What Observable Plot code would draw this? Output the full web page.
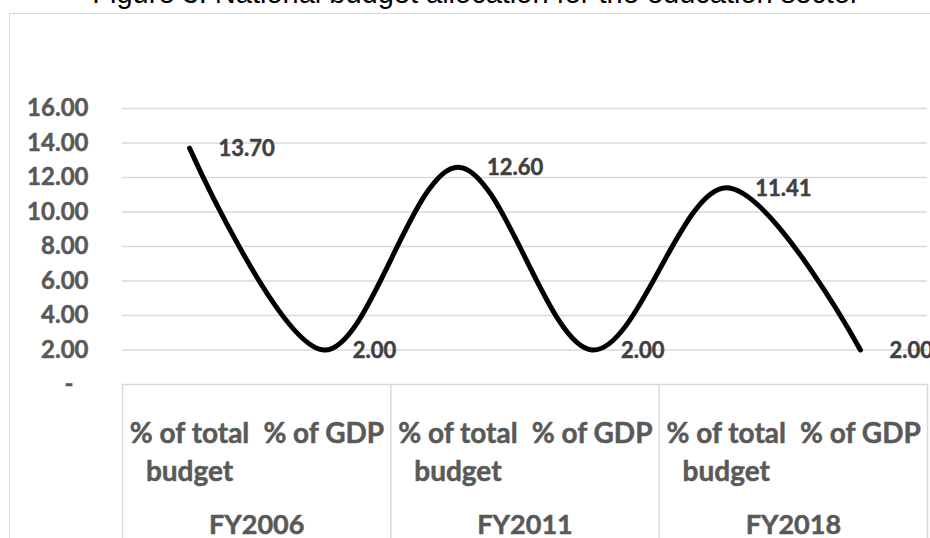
<!DOCTYPE html>
<html>
<head>
<meta charset="utf-8">
<script src="https://cdn.jsdelivr.net/npm/d3@7"></script>
<script src="https://cdn.jsdelivr.net/npm/@observablehq/plot@0.6"></script>
<style>
  html, body { margin: 0; padding: 0; background: #fff; overflow: hidden; }
  #wrap { position: relative; width: 930px; height: 538px; overflow: hidden; }
  #title {
    position: absolute; left: 0; width: 952px; top: -21px; line-height: 29px;
    text-align: center; white-space: nowrap;
    font-family: "Liberation Sans", Arial, sans-serif; font-size: 29px; color: #000;
  }
  #frame {
    position: absolute; left: 9px; top: 13px; width: 960px; height: 600px;
    border: 1.5px solid #d9d9d9; box-sizing: border-box;
  }
  #chart { position: absolute; left: 0; top: 0; }
</style>
</head>
<body>
<div id="wrap">
  <div id="title">Figure 3: National budget allocation for the education sector</div>
  <div id="frame"></div>
  <div id="chart"></div>
</div>
<script>
// Fiscal years (outer category level) and measures (inner level)
const years = ["FY2006", "FY2011", "FY2018"];
const measures = ["% of total budget", "% of GDP"];
// Education allocation, in order: FY2006 budget, FY2006 GDP, FY2011 ..., FY2018 ...
const values = [13.70, 2.00, 12.60, 2.00, 11.41, 2.00];
// Value axis ticks
const yTicks = [0, 2, 4, 6, 8, 10, 12, 14, 16];

const rows = values.map((v, i) => ({
  i,
  year: years[Math.floor(i / measures.length)],
  measure: measures[i % measures.length],
  value: v
}));
const groups = years.map((year, g) => ({
  year,
  center: g * measures.length + (measures.length - 1) / 2
}));
// Separators between fiscal-year groups in the category box
const bounds = d3.range(years.length + 1).map(g => g * measures.length - 0.5);

const font = "Lato, 'Open Sans', sans-serif";
const axisGrey = "#595959";
const labelGrey = "#404040";
// slightly heavier bold text
const heavy = (color) => ({ fill: color, stroke: color, strokeWidth: 0.5, fontWeight: "bold", fontFamily: font });

const chart = Plot.plot({
  width: 930,
  height: 538,
  marginLeft: 122,
  marginRight: 3,
  marginTop: 108,
  marginBottom: 154,
  x: { type: "linear", domain: [-0.5, values.length - 0.5], axis: null },
  y: { domain: [0, 16], axis: null },
  style: { background: "transparent", fontFamily: font, overflow: "visible" },
  marks: [
    // horizontal gridlines (the one at zero is the top of the category box)
    Plot.ruleY(yTicks, { stroke: "#d9d9d9", strokeWidth: 1.5 }),
    // vertical group separators in the category box
    Plot.ruleX(bounds, { y1: 0, y2: -9, stroke: "#d9d9d9", strokeWidth: 1.5 }),
    // value axis labels
    Plot.text(yTicks.filter(d => d !== 0), {
      y: d => d, text: d => d.toFixed(2), frameAnchor: "left",
      textAnchor: "end", dx: -34, fontSize: 24, ...heavy(axisGrey)
    }),
    Plot.text(yTicks.filter(d => d === 0), {
      y: d => d, text: () => "-", frameAnchor: "left",
      textAnchor: "end", dx: -49, fontSize: 24, ...heavy(axisGrey)
    }),
    // smoothed line
    Plot.line(rows, {
      x: "i", y: "value", curve: "cardinal", tension: 0,
      stroke: "#000", strokeWidth: 5, strokeLinecap: "round", strokeLinejoin: "round"
    }),
    // data labels
    Plot.text(rows, {
      x: "i", y: "value", text: d => d.value.toFixed(2),
      textAnchor: "start", dx: 29, dy: 1, fontSize: 22, ...heavy(labelGrey)
    }),
    // inner category labels
    Plot.text(rows, {
      x: "i", text: "measure", frameAnchor: "bottom", lineAnchor: "top",
      lineWidth: 5.2, lineHeight: 1.36, dy: 31, fontSize: 28, ...heavy(axisGrey)
    }),
    // outer category labels
    Plot.text(groups, {
      x: "center", text: "year", frameAnchor: "bottom", lineAnchor: "top", dy: 130,
      fontSize: 27, ...heavy(axisGrey)
    })
  ]
});
document.getElementById("chart").appendChild(chart);
</script>
</body>
</html>
